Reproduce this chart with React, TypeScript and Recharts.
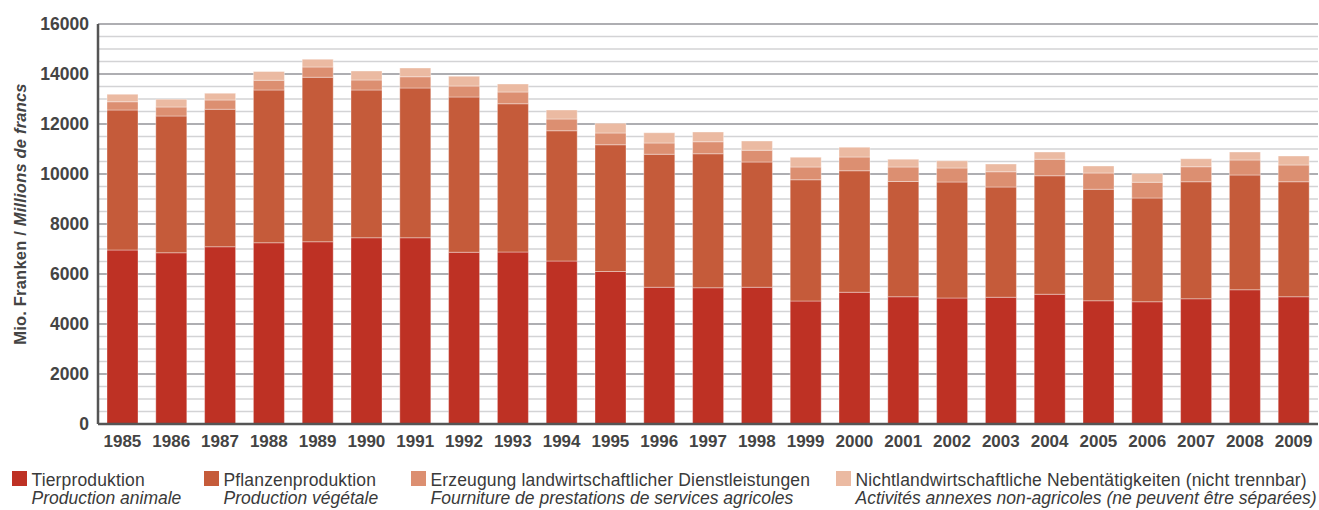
import React from 'react';
import { BarChart, Bar, XAxis, YAxis, CartesianGrid, Legend } from 'recharts';

const years = ['1985', '1986', '1987', '1988', '1989', '1990', '1991', '1992', '1993', '1994', '1995', '1996', '1997', '1998', '1999', '2000', '2001', '2002', '2003', '2004', '2005', '2006', '2007', '2008', '2009'];
const animal = [6960, 6850, 7090, 7250, 7290, 7450, 7450, 6870, 6880, 6520, 6100, 5470, 5450, 5470, 4920, 5270, 5090, 5040, 5070, 5190, 4930, 4890, 5010, 5370, 5090];
const plant = [5600, 5470, 5500, 6110, 6580, 5910, 5990, 6210, 5930, 5210, 5070, 5320, 5360, 5010, 4850, 4860, 4610, 4640, 4410, 4740, 4460, 4150, 4680, 4590, 4600];
const services = [330, 360, 370, 390, 410, 400, 450, 440, 470, 470, 470, 450, 480, 470, 510, 550, 580, 560, 610, 660, 650, 630, 600, 600, 670];
const other = [300, 310, 270, 350, 310, 360, 350, 390, 320, 360, 390, 410, 390, 370, 390, 390, 310, 290, 310, 290, 280, 350, 320, 320, 360];

const yTicks = [0, 2000, 4000, 6000, 8000, 10000, 12000, 14000, 16000];
const minorGrid = [500, 1000, 1500, 2500, 3000, 3500, 4500, 5000, 5500, 6500, 7000, 7500, 8500, 9000, 9500, 10500, 11000, 11500, 12500, 13000, 13500, 14500, 15000, 15500];
const boundaryTicks = [1, 2, 3, 4, 5, 6, 7, 8, 9, 10, 11, 12, 13, 14, 15, 16, 17, 18, 19, 20, 21, 22, 23, 24];

const seriesKeys = ['animal', 'plant', 'services', 'other'];
const seriesDe = ['Tierproduktion', 'Pflanzenproduktion', 'Erzeugung landwirtschaftlicher Dienstleistungen', 'Nichtlandwirtschaftliche Nebentätigkeiten (nicht trennbar)'];
const seriesFr = ['Production animale', 'Production végétale', 'Fourniture de prestations de services agricoles', 'Activités annexes non-agricoles (ne peuvent être séparées)'];

const COLORS = ['#BE3124', '#C55B3A', '#DC8F71', '#EBBAA2'];
const LEGEND_LEFT = [12, 204, 411, 836];
const FONT = '"Liberation Sans", Arial, Helvetica, sans-serif';

const data = years.map((year, i) => ({
  year,
  animal: animal[i],
  plant: plant[i],
  services: services[i],
  other: other[i],
}));

const renderYLabel = () => (
  <text
    x={0}
    y={0}
    transform="translate(26, 214) rotate(-90)"
    textAnchor="middle"
    fontFamily={FONT}
    fontSize={16.5}
    fontWeight="bold"
    fill="#444"
    letterSpacing={0.2}
  >
    <tspan>Mio. Franken / </tspan>
    <tspan fontStyle="italic">Millions de francs</tspan>
  </text>
);

const renderLegend = () => (
  <div style={{ position: 'relative', width: 1319, height: 48, fontFamily: FONT, color: '#3a3a3a' }}>
    {seriesKeys.map((k, i) => (
      <div key={k} style={{ position: 'absolute', left: LEGEND_LEFT[i], top: 17, whiteSpace: 'nowrap' }}>
        <div style={{ position: 'absolute', left: 0, top: 0, width: 15, height: 15, background: COLORS[i] }} />
        <div style={{ marginLeft: 19.5, fontSize: 17.5, lineHeight: '18px', letterSpacing: 0.15 }}>{seriesDe[i]}</div>
        <div style={{ marginLeft: 19.5, fontSize: 17.5, lineHeight: '18px', letterSpacing: 0, fontStyle: 'italic' }}>{seriesFr[i]}</div>
      </div>
    ))}
  </div>
);

export default function App() {
  return (
    <div style={{ position: 'absolute', left: 0, top: 0, width: 1319, height: 510, background: '#fff' }}>
      <BarChart width={1319} height={510} data={data} margin={{ top: 24, right: 1, bottom: 8, left: 0 }}>
        <CartesianGrid horizontalValues={minorGrid} vertical={false} stroke="#d3d3d5" strokeWidth={1.5} />
        <CartesianGrid horizontalValues={yTicks} vertical={false} stroke="#aeaeb2" strokeWidth={2} />
        <XAxis
          xAxisId="bounds"
          type="number"
          domain={[0, 25]}
          ticks={boundaryTicks}
          allowDataOverflow
          height={0}
          mirror
          tick={false}
          axisLine={false}
          tickLine={{ stroke: '#bdbdbd', strokeWidth: 1.5 }}
          tickSize={9}
        />
        <XAxis
          dataKey="year"
          interval={0}
          height={30}
          tickLine={false}
          tickMargin={5}
          axisLine={{ stroke: '#555', strokeWidth: 2.5 }}
          tick={{ fontFamily: FONT, fontSize: 17, fontWeight: 'bold', fill: '#444' }}
        />
        <XAxis xAxisId="top" dataKey="year" orientation="top" height={0} tick={false} tickLine={false} axisLine={{ stroke: '#6e6e6e', strokeWidth: 2 }} />
        <YAxis
          domain={[0, 16000]}
          ticks={yTicks}
          interval={0}
          width={98}
          tickLine={false}
          tickMargin={3}
          axisLine={{ stroke: '#555', strokeWidth: 2.5 }}
          tick={{ fontFamily: FONT, fontSize: 17.5, fontWeight: 'bold', fill: '#444' }}
          label={{ content: renderYLabel }}
        />
        <YAxis yAxisId="right" orientation="right" domain={[0, 16000]} width={0} tick={false} tickLine={false} axisLine={{ stroke: '#6e6e6e', strokeWidth: 2 }} />
        {seriesKeys.map((k, i) => (
          <Bar
            key={k}
            dataKey={k}
            stackId="a"
            fill={COLORS[i]}
            barSize={31}
            stroke="#ffffff"
            strokeOpacity={0.35}
            strokeWidth={1}
            isAnimationActive={false}
          />
        ))}
        <Legend verticalAlign="bottom" content={renderLegend} wrapperStyle={{ left: 0, width: 1319 }} />
      </BarChart>
    </div>
  );
}
